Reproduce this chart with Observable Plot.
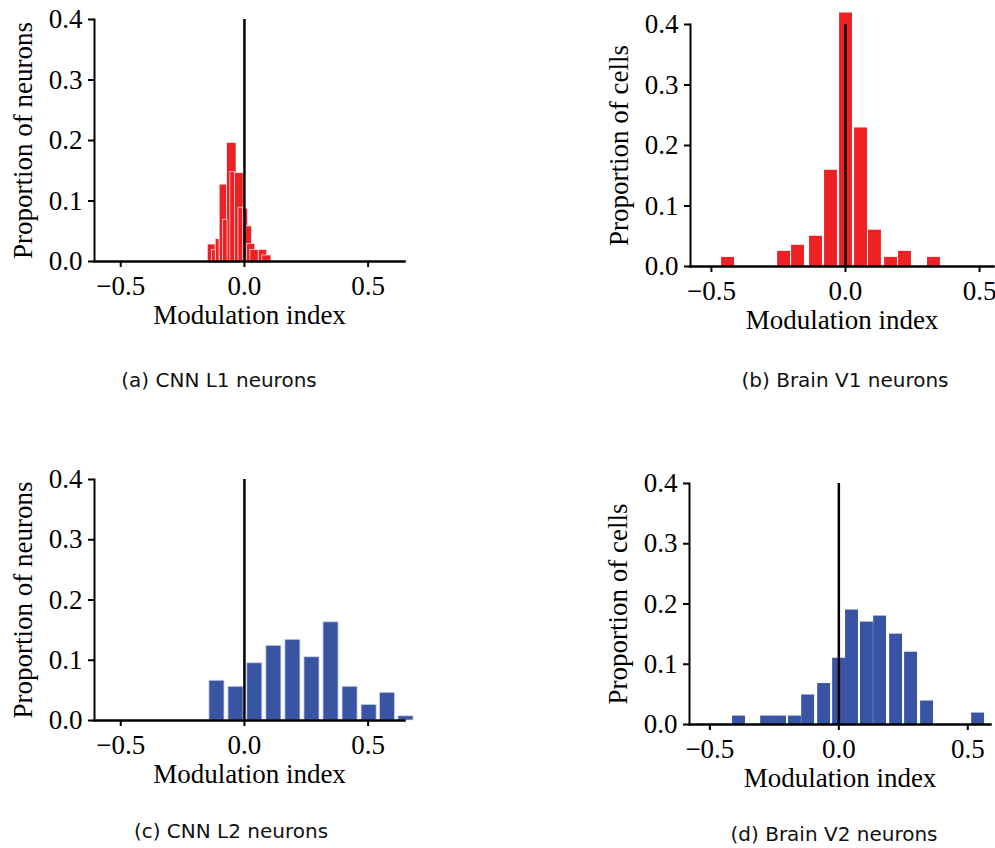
<!DOCTYPE html>
<html><head><meta charset="utf-8">
<script src="https://cdn.jsdelivr.net/npm/d3@7"></script>
<script src="https://cdn.jsdelivr.net/npm/@observablehq/plot@0.6"></script>
<style>
body{margin:0;background:#fff;width:995px;height:848px;position:relative;overflow:hidden}
.panel{position:absolute}
.cap{position:absolute;font-family:"DejaVu Sans";font-size:20px;line-height:normal;color:#111;white-space:nowrap;transform:translateX(-50%)}
</style></head>
<body>
<div id="pa" class="panel" style="left:0;top:0"></div>
<div id="pb" class="panel" style="left:600px;top:0"></div>
<div id="pc" class="panel" style="left:0;top:460px"></div>
<div id="pd" class="panel" style="left:600px;top:460px"></div>
<div class="cap" style="left:219px;top:368px">(a) CNN L1 neurons</div>
<div class="cap" style="left:845px;top:368px">(b) Brain V1 neurons</div>
<div class="cap" style="left:231px;top:819px">(c) CNN L2 neurons</div>
<div class="cap" style="left:834px;top:822px">(d) Brain V2 neurons</div>
<script>
// ---- data ----
const xTickValues = [-0.5, 0, 0.5];
const yTickValues = [0, 0.1, 0.2, 0.3, 0.4];
const xLabel = "Modulation index";

// (a) CNN L1 neurons: two overlapping histograms (bin edges + proportions)
const aLo1 = [-0.148, -0.116, -0.100, -0.070, -0.043, -0.003, 0.001, 0.011, 0.024, 0.058, 0.072];
const aHi1 = [-0.116, -0.100, -0.070, -0.032, -0.003, 0.015, 0.031, 0.044, 0.058, 0.092, 0.109];
const aVal1 = [0.028, 0.037, 0.127, 0.196, 0.146, 0.087, 0.058, 0.029, 0.019, 0.019, 0.010];
const aLo2 = [-0.131, -0.086, -0.057, -0.024];
const aHi2 = [-0.116, -0.068, -0.038, -0.005];
const aVal2 = [0.019, 0.069, 0.148, 0.089];

// (b) Brain V1 neurons
const bCenter = [-0.438, -0.229, -0.177, -0.110, -0.054, 0.002, 0.058, 0.110, 0.170, 0.222, 0.330];
const bValue  = [0.015, 0.025, 0.035, 0.050, 0.159, 0.419, 0.229, 0.060, 0.015, 0.025, 0.015];
const bWidth = 0.048;

// (c) CNN L2 neurons
const cCenter = [-0.111, -0.034, 0.042, 0.119, 0.196, 0.273, 0.350, 0.427, 0.504, 0.578, 0.653];
const cValue  = [0.066, 0.056, 0.095, 0.124, 0.134, 0.105, 0.163, 0.056, 0.026, 0.046, 0.007];
const cWidth = 0.061;

// (d) Brain V2 neurons
const dCenter = [-0.387, -0.278, -0.228, -0.170, -0.119, -0.057, 0.001, 0.051, 0.109, 0.160, 0.222, 0.280, 0.342, 0.540];
const dValue  = [0.014, 0.014, 0.014, 0.014, 0.049, 0.068, 0.110, 0.190, 0.170, 0.180, 0.150, 0.120, 0.039, 0.019];
const dWidth = 0.050;

const RED = "#ed2024", BLUE = "#3a54a4";

// ---- helpers ----
const fmt = d => d3.format(".1f")(d).replace("-", "\u2212");
const edges = (lo, hi, v) => lo.map((l, i) => ({x1: l, x2: hi[i], y: v[i]}));
const centered = (c, v, w) => c.map((m, i) => ({x1: m - w / 2, x2: m + w / 2, y: v[i]}));

function panel(id, o) {
  const chart = Plot.plot({
    width: o.width, height: 340,
    marginTop: o.mt, marginBottom: o.mb, marginLeft: o.ml, marginRight: o.mr,
    style: {fontFamily: "Liberation Serif", fontSize: "27px", color: "#000", background: "transparent", overflow: "visible"},
    x: {domain: o.xdom},
    y: {domain: [0, 0.4]},
    marks: [
      ...o.marks,
      Plot.ruleX([0], {y1: 0, y2: 0.4, stroke: "black", strokeWidth: 2.5}),
      Plot.frame({anchor: "left", stroke: "black", strokeWidth: 2}),
      Plot.frame({anchor: "bottom", stroke: "black", strokeWidth: 2.5}),
      Plot.axisX({ticks: xTickValues, tickFormat: fmt, tickSize: 6, tickPadding: 8, strokeWidth: 2,
        label: xLabel, labelAnchor: "center", labelArrow: "none", labelOffset: 62}),
      Plot.axisY({ticks: yTickValues, tickFormat: fmt, tickSize: 6, tickPadding: 6, strokeWidth: 2,
        label: o.ylabel, labelAnchor: "center", labelArrow: "none", labelOffset: 82})
    ]
  });
  document.getElementById(id).appendChild(chart);
}

panel("pa", {width: 420, mt: 19, mb: 79, ml: 94, mr: 16, xdom: [-0.606, 0.647], ylabel: "Proportion of neurons",
  marks: [
    Plot.rectY(edges(aLo1, aHi1, aVal1), {x1: "x1", x2: "x2", y1: 0, y2: "y", fill: RED, stroke: "white", strokeWidth: 0.8, strokeOpacity: 0.8}),
    Plot.rectY(edges(aLo2, aHi2, aVal2), {x1: "x1", x2: "x2", y1: 0, y2: "y", fill: RED, stroke: "white", strokeWidth: 0.8, strokeOpacity: 0.8})
  ]});

panel("pb", {width: 395, mt: 24, mb: 74, ml: 90, mr: 2, xdom: [-0.578, 0.552], ylabel: "Proportion of cells",
  marks: [
    Plot.rectY(centered(bCenter, bValue, bWidth), {x1: "x1", x2: "x2", y1: 0, y2: "y", fill: RED})
  ]});

panel("pc", {width: 420, mt: 19, mb: 80, ml: 94, mr: 16, xdom: [-0.606, 0.647], ylabel: "Proportion of neurons",
  marks: [
    Plot.rectY(centered(cCenter, cValue, cWidth), {x1: "x1", x2: "x2", y1: 0, y2: "y", fill: BLUE, stroke: "#cfd6ea", strokeWidth: 0.8})
  ]});

panel("pd", {width: 395, mt: 23, mb: 76, ml: 89, mr: 5, xdom: [-0.579, 0.588], ylabel: "Proportion of cells",
  marks: [
    Plot.rectY(centered(dCenter, dValue, dWidth), {x1: "x1", x2: "x2", y1: 0, y2: "y", fill: BLUE})
  ]});
</script>
</body></html>
